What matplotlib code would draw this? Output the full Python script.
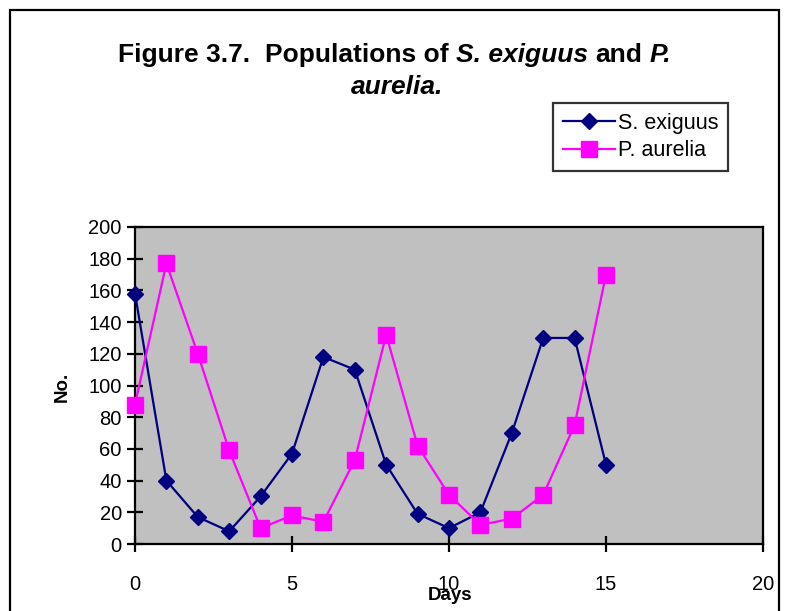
import matplotlib
matplotlib.use("Agg")
import matplotlib.pyplot as plt
from matplotlib.patches import Rectangle

days = list(range(16))
s_exiguus = [158, 40, 17, 8, 30, 57, 118, 110, 50, 19, 10, 20, 70, 130, 130, 50]
p_aurelia = [88, 177, 120, 59, 10, 18, 14, 53, 132, 62, 31, 12, 16, 31, 75, 170]
x_ticks = [0, 5, 10, 15, 20]
y_ticks = list(range(0, 201, 20))

FONT = "Liberation Sans"
plt.rcParams["font.family"] = [FONT, "DejaVu Sans"]

W, H = 787, 611
fig = plt.figure(figsize=(W / 100, H / 100), dpi=100)
fig.patch.set_facecolor("white")

def fx(px):
    return px / W

def fy(py):
    return 1 - py / H

ax = fig.add_axes([fx(135), fy(544), fx(763) - fx(135), fy(227) - fy(544)])
ax.set_facecolor("#C0C0C0")

ax.plot(days, s_exiguus, color="#000080", lw=1.6, marker="D", ms=8.5,
        markerfacecolor="#000080", markeredgecolor="#000080", label="S. exiguus",
        clip_on=False, zorder=3)
ax.plot(days, p_aurelia, color="#FF00FF", lw=1.6, marker="s", ms=11.5,
        markerfacecolor="#FF00FF", markeredgecolor="#FF00FF", label="P. aurelia",
        clip_on=False, zorder=3)

ax.set_xlim(0, 20)
ax.set_ylim(0, 200)
ax.set_xticks(x_ticks)
ax.set_yticks(y_ticks)
for s in ax.spines.values():
    s.set_linewidth(1.6)
    s.set_color("black")
ax.tick_params(axis="both", direction="inout", length=11, width=1.6,
               labelsize=14.5, colors="black")
ax.tick_params(axis="x", pad=17)
ax.tick_params(axis="y", pad=4)

fig.text(fx(450), fy(596), "Days", ha="center", va="center",
         fontsize=13.5, fontweight="bold")
fig.text(fx(62), fy(387), "No.", ha="center", va="center",
         fontsize=13.5, fontweight="bold", rotation=90)

leg = ax.legend(loc="upper left", bbox_to_anchor=(fx(553), fy(103)),
                bbox_transform=fig.transFigure, borderaxespad=0,
                fontsize=15.5, frameon=True, fancybox=False, edgecolor="black",
                handlelength=2.45, handletextpad=0.1, borderpad=0.45,
                labelspacing=0.3)
leg.get_frame().set_linewidth(1.6)

# figure border
fig.patches.append(Rectangle((fx(10), -0.1), fx(779) - fx(10), fy(10) + 0.1,
                             transform=fig.transFigure, fill=False,
                             edgecolor="black", lw=1.6))

# title with mixed styles
renderer = fig.canvas.get_renderer()
TS = 19

def width_of(s, style):
    t = fig.text(0, 0, s, fontsize=TS, fontweight="bold", fontstyle=style)
    w = t.get_window_extent(renderer).width
    t.remove()
    return w

space_w = width_of("x x", "normal") - width_of("xx", "normal")

def mixed_line(pieces, cx, cy):
    # pieces: list of (text, style, gap_before_in_spaces)
    widths = [width_of(p[0], p[1]) for p in pieces]
    total = sum(widths) + sum(p[2] for p in pieces) * space_w
    x = cx - total / 2
    for (txt, style, gap), w in zip(pieces, widths):
        x += gap * space_w
        fig.text(x / W, cy, txt, fontsize=TS, fontweight="bold",
                 fontstyle=style, ha="left", va="center")
        x += w

mixed_line([("Figure 3.7.", "normal", 0),
            ("Populations of", "normal", 2.0),
            ("S. exiguus", "italic", 1.0),
            ("and", "normal", 1.0),
            ("P.", "italic", 1.0)], 395, fy(55))
mixed_line([("aurelia.", "italic", 0)], 397, fy(87))

fig.savefig("out.png", dpi=100)
